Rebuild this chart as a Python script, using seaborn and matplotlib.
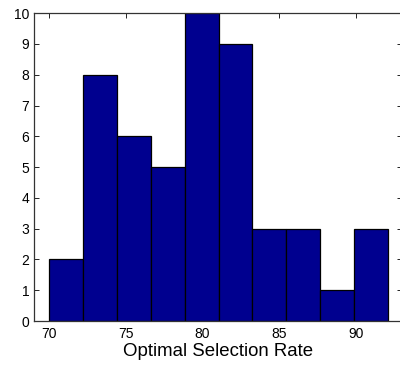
import numpy as np
import pandas as pd
import matplotlib
matplotlib.use("Agg")
import matplotlib.pyplot as plt
import seaborn as sns

# histogram counts (10 equal bins)
counts = [2, 8, 6, 5, 10, 9, 3, 3, 1, 3]
bin_lo, bin_hi = 70.0, 92.1
xticks = [70, 75, 80, 85, 90]
yticks = list(range(0, 11))

edges = np.linspace(bin_lo, bin_hi, len(counts) + 1)
centers = (edges[:-1] + edges[1:]) / 2
df = pd.DataFrame({"rate": centers, "n": counts})

sns.set_style("ticks")
plt.rcParams["font.family"] = ["Liberation Sans", "DejaVu Sans"]

fig = plt.figure(figsize=(4.0, 3.65), dpi=100)
ax = fig.add_axes([0.084, 0.1205, 0.92, 0.8435])

sns.histplot(data=df, x="rate", weights="n", bins=len(counts),
             binrange=(bin_lo, bin_hi), ax=ax,
             color="#00008F", edgecolor="black", linewidth=0.9, alpha=1.0)

ax.set_xlim(68.98, 93.0)
ax.set_ylim(0, 10)
ax.set_xticks(xticks)
ax.set_yticks(yticks)
ax.tick_params(direction="in", top=True, right=True, length=3.5, width=0.6,
               labelsize=10, colors="black")
ax.tick_params(axis="y", pad=3)
ax.tick_params(axis="x", pad=4)
for s in ax.spines.values():
    s.set_linewidth(0.9)
    s.set_color("#333333")
ax.set_ylabel("")
ax.set_xlabel("Optimal Selection Rate", fontsize=13.4, labelpad=2, color="black")

fig.savefig("out.png", dpi=100)
